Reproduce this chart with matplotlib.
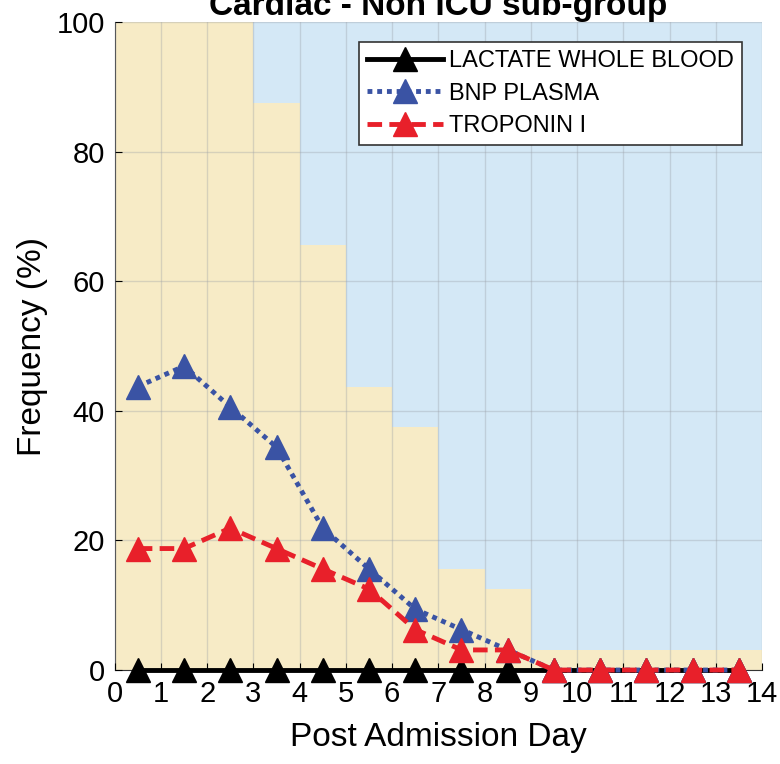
import numpy as np
import matplotlib.pyplot as plt

plt.rcParams['font.family'] = ['Liberation Sans', 'DejaVu Sans']

# data
days = np.arange(0.5, 14, 1.0)
bar_left = np.arange(0, 14)
coverage = [100, 100, 100, 87.5, 65.6, 43.75, 37.5, 15.6, 12.5, 3.1, 3.1, 3.1, 3.1, 3.1]
lactate = [0, 0, 0, 0, 0, 0, 0, 0, 0, 0, 0, 0, 0, 0]
bnp = [43.75, 46.9, 40.6, 34.4, 21.9, 15.6, 9.4, 6.25, 3.1, 0, 0, 0, 0, 0]
troponin = [18.75, 18.75, 21.9, 18.75, 15.6, 12.5, 6.25, 3.1, 3.1, 0, 0, 0, 0, 0]

fig = plt.figure(figsize=(7.8, 7.64), dpi=100)
ax = fig.add_axes([0.147, 0.123, 0.83, 0.848])

ax.set_facecolor('#D4E8F6')
ax.bar(bar_left, coverage, width=1.0, align='edge', color='#F7EBC6', linewidth=0, zorder=1)

ax.plot(days, lactate, color='black', lw=3.5, ls='-', marker='^', ms=17,
        label='LACTATE WHOLE BLOOD', zorder=4, clip_on=False)
ax.plot(days, bnp, color='#3A53A4', lw=3.5, ls=(0, (1, 1)), marker='^', ms=17,
        label='BNP PLASMA', zorder=5, clip_on=False)
ax.plot(days, troponin, color='#E8202A', lw=3.5, ls=(0, (3, 1.5)), marker='^', ms=17,
        label='TROPONIN I', zorder=6, clip_on=False)

ax.set_xlim(0, 14)
ax.set_ylim(0, 100)
ax.set_xticks(range(0, 15))
ax.set_yticks(range(0, 101, 20))
ax.set_axisbelow(False)
ax.grid(True, color='#9aa0a6', alpha=0.35, lw=1)
ax.tick_params(direction='in', labelsize=21, length=5, pad=7)
for s in ['top', 'right']:
    ax.spines[s].set_visible(False)
for s in ['left', 'bottom']:
    ax.spines[s].set_color('#333333')

ax.set_xlabel('Post Admission Day', fontsize=24, labelpad=10)
ax.set_ylabel('Frequency (%)', fontsize=24, labelpad=6)
ax.set_title('Cardiac - Non ICU sub-group', fontsize=24, fontweight='bold', pad=2)

leg = ax.legend(loc='upper right', fontsize=17, handlelength=3.2, fancybox=False,
                framealpha=1, edgecolor='#333333', borderaxespad=0.85,
                labelspacing=0.43, handletextpad=0.25, borderpad=0.35)
leg.get_frame().set_linewidth(1.2)

fig.savefig('out.png', dpi=100)
